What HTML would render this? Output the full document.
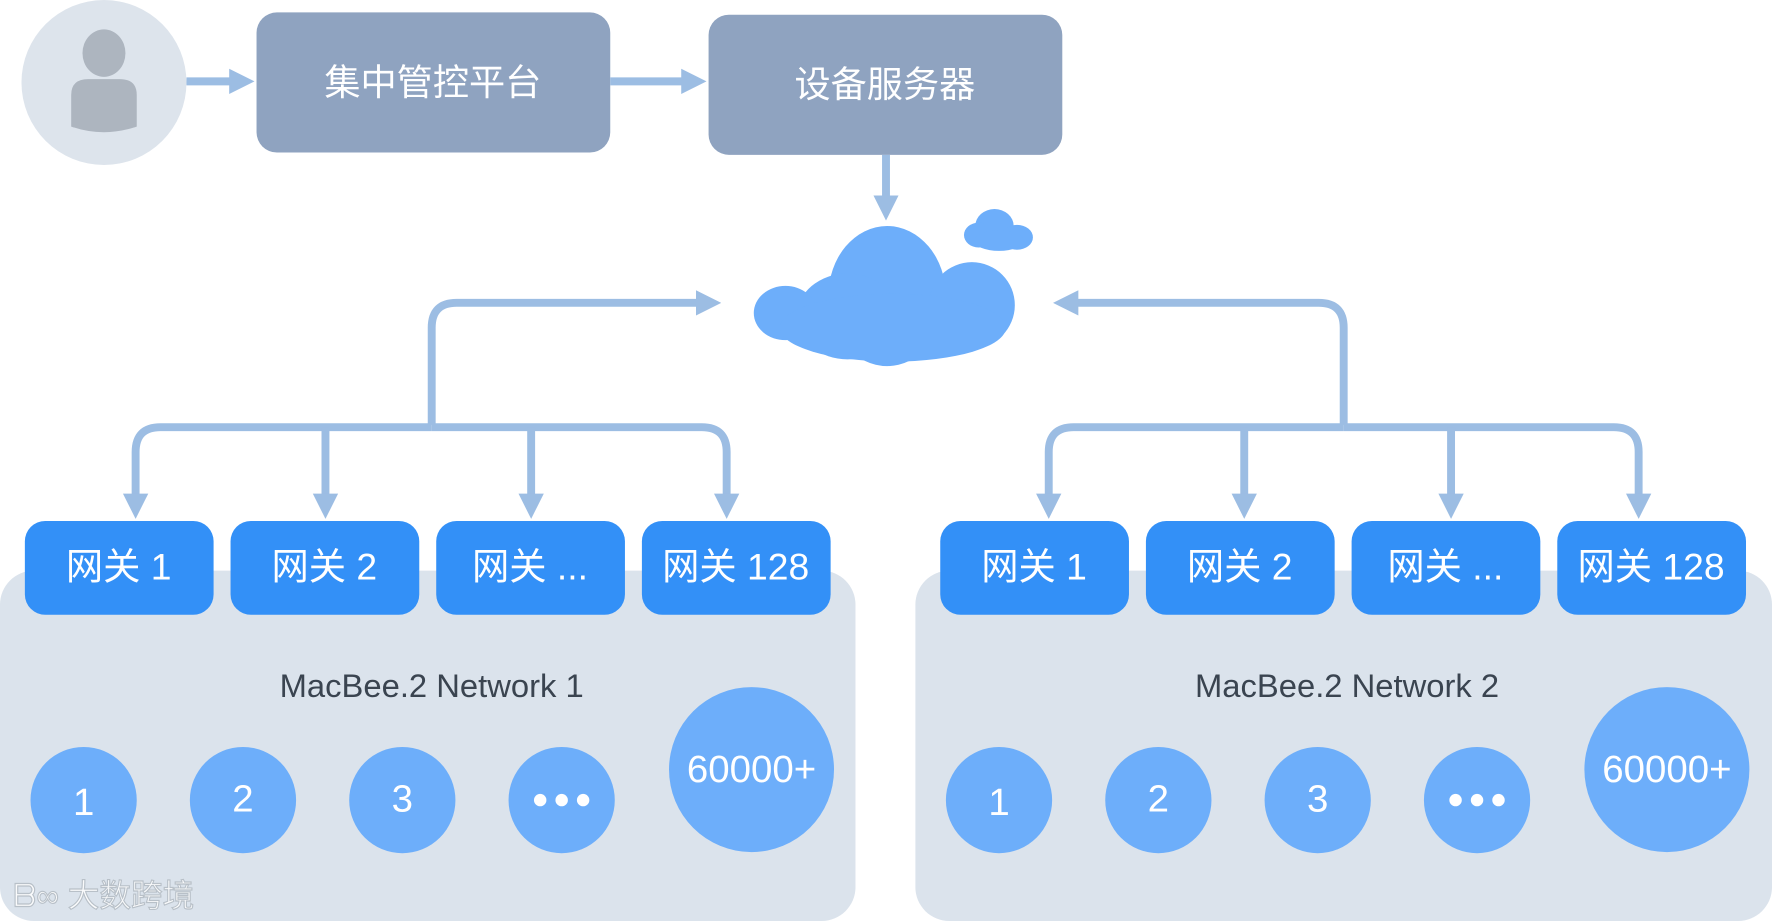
<!DOCTYPE html>
<html><head><meta charset="utf-8"><style>
html,body{margin:0;padding:0;background:#fff;width:1772px;height:921px;overflow:hidden}
svg{display:block}
text{font-family:"Liberation Sans","Noto Sans CJK SC",sans-serif}
</style></head><body>
<svg width="1772" height="921" viewBox="0 0 1568 815" preserveAspectRatio="none" xmlns="http://www.w3.org/2000/svg">
<defs>
<marker id="ah" viewBox="0 0 10 10" refX="5" refY="5" markerWidth="3.2" markerHeight="4" orient="auto" markerUnits="strokeWidth">
<path d="M0,0 L10,5 L0,10 Z" fill="#9cbde3"/>
</marker>
</defs>
<!-- person -->
<circle cx="92" cy="73" r="73" fill="#dde4ec"/>
<ellipse cx="92" cy="47" rx="19" ry="21" fill="#adb5bf"/>
<path d="M63,84 Q63,70 78,70 L106,70 Q121,70 121,84 L121,112 Q92,122 63,112 Z" fill="#adb5bf"/>
<!-- top boxes -->
<rect x="227" y="11" width="313" height="124" rx="18" fill="#8fa3c0"/>
<text x="383" y="84" font-size="32" fill="#fff" text-anchor="middle">集中管控平台</text>
<rect x="627" y="13" width="313" height="124" rx="18" fill="#8fa3c0"/>
<text x="783" y="86" font-size="32" fill="#fff" text-anchor="middle">设备服务器</text>
<g stroke="#9cbde3" stroke-width="7" fill="none" marker-end="url(#ah)">
<path d="M165,72 L214,72"/>
<path d="M540,72 L614,72"/>
<path d="M784,137 L784,184"/>
<path d="M382,376 L382,290 Q382,268 404,268 L627,268"/>
<path d="M1189,376 L1189,290 Q1189,268 1167,268 L943,268"/>
<path d="M382,378 L142,378 Q120,378 120,400 L120,448"/>
<path d="M382,378 L621,378 Q643,378 643,400 L643,448"/>
<path d="M1189,378 L950,378 Q928,378 928,400 L928,448"/>
<path d="M1189,378 L1428,378 Q1450,378 1450,400 L1450,448"/>
<path d="M288,378 L288,448"/>
<path d="M470,378 L470,448"/>
<path d="M1101,378 L1101,448"/>
<path d="M1284,378 L1284,448"/>
</g>
<!-- cloud -->
<g fill="#6daefa">
<ellipse cx="785" cy="262" rx="52" ry="62"/>
<ellipse cx="750" cy="280" rx="45" ry="38"/>
<ellipse cx="860" cy="270" rx="38" ry="38"/>
<ellipse cx="695" cy="277" rx="28" ry="24"/>
<ellipse cx="790" cy="290" rx="100" ry="30"/>
<ellipse cx="880" cy="200" rx="17" ry="15"/>
<ellipse cx="866" cy="208" rx="13" ry="11"/>
<ellipse cx="900" cy="210" rx="14" ry="11"/>
<ellipse cx="884" cy="213" rx="22" ry="9"/>
</g>
<!-- panels -->
<rect x="0" y="505" width="757" height="310" rx="30" fill="#dbe3ec"/>
<rect x="810" y="505" width="758" height="310" rx="30" fill="#dbe3ec"/>
<g fill="#3390f7">
<rect x="22" y="461" width="167" height="83" rx="18"/>
<rect x="204" y="461" width="167" height="83" rx="18"/>
<rect x="386" y="461" width="167" height="83" rx="18"/>
<rect x="568" y="461" width="167" height="83" rx="18"/>
<rect x="832" y="461" width="167" height="83" rx="18"/>
<rect x="1014" y="461" width="167" height="83" rx="18"/>
<rect x="1196" y="461" width="167" height="83" rx="18"/>
<rect x="1378" y="461" width="167" height="83" rx="18"/>
</g>
<g font-size="33" fill="#fff" text-anchor="middle">
<text x="105" y="513">网关 1</text>
<text x="287" y="513">网关 2</text>
<text x="469" y="513">网关 ...</text>
<text x="651" y="513">网关 128</text>
<text x="915" y="513">网关 1</text>
<text x="1097" y="513">网关 2</text>
<text x="1279" y="513">网关 ...</text>
<text x="1461" y="513">网关 128</text>
</g>
<g font-size="29" fill="#3a4450" text-anchor="middle">
<text x="382" y="617">MacBee.2 Network 1</text>
<text x="1192" y="617">MacBee.2 Network 2</text>
</g>
<g fill="#6daefa">
<circle cx="74" cy="708" r="47"/><circle cx="215" cy="708" r="47"/><circle cx="356" cy="708" r="47"/><circle cx="497" cy="708" r="47"/><circle cx="665" cy="681" r="73"/>
<circle cx="884" cy="708" r="47"/><circle cx="1025" cy="708" r="47"/><circle cx="1166" cy="708" r="47"/><circle cx="1307" cy="708" r="47"/><circle cx="1475" cy="681" r="73"/>
</g>
<g font-size="34" fill="#fff" text-anchor="middle">
<text x="74" y="721">1</text><text x="215" y="718">2</text><text x="356" y="718">3</text>
<text x="665" y="692">60000+</text>
<text x="884" y="721">1</text><text x="1025" y="718">2</text><text x="1166" y="718">3</text>
<text x="1475" y="692">60000+</text>
</g>
<g fill="#fff">
<circle cx="478" cy="708" r="5.5"/><circle cx="497" cy="708" r="5.5"/><circle cx="516" cy="708" r="5.5"/>
<circle cx="1288" cy="708" r="5.5"/><circle cx="1307" cy="708" r="5.5"/><circle cx="1326" cy="708" r="5.5"/>
</g>
<!-- watermark -->
<text x="12" y="802" font-size="28" fill="#fff" fill-opacity="0.85" stroke="#b8c0c8" stroke-width="1">ᗷ∞ 大数跨境</text>
</svg>
</body></html>
